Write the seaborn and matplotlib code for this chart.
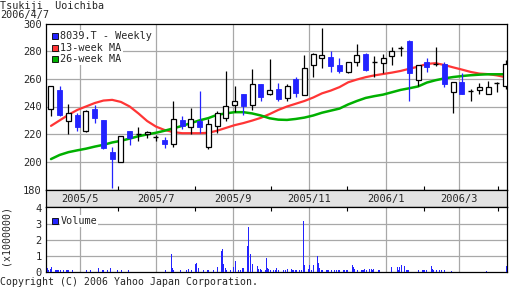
import matplotlib
matplotlib.use("Agg")
import matplotlib.pyplot as plt
import matplotlib.dates as mdates
from matplotlib.patches import Rectangle
import numpy as np
import pandas as pd
import seaborn as sns

sns.set_style("white")
plt.rcParams['font.family'] = ['DejaVu Sans Mono']
plt.rcParams['font.size'] = 7

# ---------------- data ----------------
title = "Tsukiji  Uoichiba"
as_of = "2006/4/7"
copyright_text = "Copyright (C) 2006 Yahoo Japan Corporation."
series_labels = ["8039.T - Weekly", "13-week MA", "26-week MA"]
volume_label = "Volume"
volume_unit = "(x1000000)"

week_start = "2005-04-08"
n_weeks = 53

opens = [238, 252, 229.8, 234, 222.4, 238, 230.3, 207.4, 199.8, 222.4,
         220, 220.2, 217.8, 215.9, 212.8, 230.3, 225.3, 229.8, 211, 225.8,
         231.6, 241.4, 249, 241.2, 256, 249.3, 252.7, 246.2, 259.9, 248.6,
         269.8, 274.9, 275.6, 269.8, 265.2, 272, 278, 272.4, 271.5, 276.8,
         282.5, 287.6, 259.4, 272.4, 270.5, 270.8, 250.8, 258, 251.5, 252,
         248.9, 256.8, 254.9]
highs = [255, 254.5, 242, 235.6, 237.5, 241.2, 230.5, 211, 219, 222.5,
         225.5, 222, 219.5, 217.8, 243.8, 233.4, 238.8, 251, 231, 236.6,
         265.5, 255, 249.1, 267, 256, 274.4, 256.8, 256.3, 261.6, 277.3,
         278.5, 296.8, 279.9, 274.9, 272.5, 285.2, 278.5, 276.8, 278, 282.8,
         283.5, 288, 270, 274.9, 283.2, 272.2, 257.5, 264, 252.5, 256.8,
         258.7, 257.5, 273.6]
lows = [233.4, 233, 220, 222.6, 221.9, 228.4, 209.2, 181, 199.8, 212.3,
        214.7, 217, 215.4, 209.9, 210.6, 223.6, 220.2, 221, 209.4, 220.7,
        229.8, 236, 234.2, 237.5, 244.3, 248.6, 244.3, 244.3, 246.7, 248.6,
        261.6, 267.7, 264.8, 264.3, 264, 269.5, 266, 261.6, 264, 270,
        276.8, 244.3, 254.7, 265.2, 269.3, 254.4, 235.2, 249, 244.3, 249.1,
        248.9, 250.8, 252.5]
closes = [255, 233.5, 235.2, 225, 236.8, 231.6, 210, 202.2, 218.8, 217.1,
          220, 221.9, 217.8, 212.8, 230.8, 226.2, 231.3, 225.5, 227.4, 235.2,
          240.2, 244.3, 240.2, 256.1, 246.7, 251.8, 245.5, 254.9, 249.6, 267.9,
          278, 277, 269.5, 265.5, 272, 277.5, 266.6, 272.4, 275.1, 280.1,
          282.5, 264.3, 270, 268.8, 270.5, 256.1, 257.5, 249.1, 251.5, 253.9,
          254.4, 256.8, 270.5]

ma13 = [226, 230, 234, 237.5, 240, 242.5, 244.3, 244.8, 243.3, 240,
        235, 229.5, 225.5, 223, 221.5, 220.7, 220.7, 220.7, 221, 222.5,
        224.5, 226.5, 228, 229.8, 231.8, 234.5, 237.5, 240, 242, 244,
        246.5, 249.5, 251.5, 254, 257.5, 259.5, 261.2, 262.5, 263.5, 264.5,
        265.7, 267.3, 268.8, 270.8, 271.3, 270, 268.3, 266.7, 265, 263.8,
        263.4, 262.5, 261.2]
ma26 = [202, 205, 207, 208.3, 209.5, 211, 212.3, 214, 215.2, 216.8,
        218.5, 219.8, 221, 222.5, 224.2, 226, 228, 230, 231.6, 234,
        235, 235.9, 235.9, 235, 233.5, 231.5, 230.5, 230.3, 231, 232,
        233.5, 235.5, 237, 238.5, 241.5, 244, 246.2, 247.5, 248.6, 250.3,
        252, 253.2, 254.5, 257.3, 259, 260.3, 261.3, 262, 262.6, 263,
        263.3, 263.3, 263.3]

vol_dates = [
    "2005-04-05", "2005-04-06", "2005-04-07", "2005-04-08", "2005-04-11", "2005-04-12",
    "2005-04-13", "2005-04-14", "2005-04-15", "2005-04-18", "2005-04-20", "2005-04-21",
    "2005-04-22", "2005-04-25", "2005-05-06", "2005-05-09", "2005-05-16", "2005-05-19",
    "2005-05-20", "2005-05-23", "2005-05-25", "2005-05-31", "2005-06-03", "2005-06-09",
    "2005-07-08", "2005-07-13", "2005-07-14", "2005-07-15", "2005-07-20", "2005-07-25",
    "2005-07-27", "2005-07-29", "2005-08-01", "2005-08-02", "2005-08-04", "2005-08-08",
    "2005-08-11", "2005-08-12", "2005-08-16", "2005-08-19", "2005-08-22", "2005-08-23",
    "2005-08-24", "2005-08-25", "2005-08-26", "2005-08-29", "2005-09-01", "2005-09-02",
    "2005-09-05", "2005-09-06", "2005-09-08", "2005-09-09", "2005-09-12", "2005-09-13",
    "2005-09-14", "2005-09-16", "2005-09-20", "2005-09-21", "2005-09-22", "2005-09-23",
    "2005-09-26", "2005-09-27", "2005-09-28", "2005-09-29", "2005-09-30", "2005-10-03",
    "2005-10-04", "2005-10-05", "2005-10-07", "2005-10-11", "2005-10-12", "2005-10-14",
    "2005-10-17", "2005-10-18", "2005-10-19", "2005-10-20", "2005-10-21", "2005-10-24",
    "2005-10-25", "2005-10-27", "2005-10-28", "2005-10-31", "2005-11-01", "2005-11-02",
    "2005-11-04", "2005-11-07", "2005-11-08", "2005-11-09", "2005-11-10", "2005-11-11",
    "2005-11-14", "2005-11-15", "2005-11-16", "2005-11-18", "2005-11-21", "2005-11-22",
    "2005-11-24", "2005-11-25", "2005-11-28", "2005-11-29", "2005-11-30", "2005-12-01",
    "2005-12-05", "2005-12-06", "2005-12-07", "2005-12-09", "2005-12-12", "2005-12-13",
    "2005-12-14", "2005-12-15", "2005-12-16", "2005-12-19", "2005-12-20", "2005-12-21",
    "2005-12-22", "2005-12-26", "2005-12-27", "2006-01-05", "2006-01-10", "2006-01-11",
    "2006-01-12", "2006-01-13", "2006-01-16", "2006-01-17", "2006-01-18", "2006-01-19",
    "2006-01-27", "2006-01-30", "2006-01-31", "2006-02-01", "2006-02-02", "2006-02-06",
    "2006-02-07", "2006-02-08", "2006-02-10", "2006-02-13", "2006-02-14", "2006-02-17",
    "2006-02-22", "2006-03-22", "2006-04-07"]
vol_values = [
    0.25, 0.15, 0.2, 0.33, 0.12, 0.12,
    0.12, 0.15, 0.15, 0.15, 0.12, 0.12,
    0.12, 0.12, 0.12, 0.12, 0.25, 0.12,
    0.12, 0.12, 0.25, 0.12, 0.12, 0.12,
    0.12, 1.16, 0.25, 0.12, 0.15, 0.12,
    0.2, 0.12, 0.5, 0.57, 0.25, 0.12,
    0.12, 0.15, 0.12, 0.33, 1.3, 1.47,
    0.5, 0.25, 0.12, 0.12, 0.3, 0.7,
    0.15, 0.12, 0.25, 0.27, 1.6, 2.78,
    1.14, 0.5, 0.4, 0.2, 0.2, 0.12,
    0.12, 0.9, 0.25, 0.2, 0.15, 0.15,
    0.12, 0.25, 0.12, 0.12, 0.12, 0.2,
    0.2, 0.12, 0.12, 0.12, 0.12, 0.12,
    0.12, 3.2, 0.47, 0.2, 0.47, 0.12,
    0.47, 1.0, 0.6, 0.25, 0.15, 0.15,
    0.12, 0.12, 0.12, 0.12, 0.15, 0.12,
    0.12, 0.12, 0.12, 0.12, 0.12, 0.15,
    0.43, 0.3, 0.2, 0.15, 0.12, 0.15,
    0.12, 0.2, 0.12, 0.2, 0.2, 0.12,
    0.2, 0.15, 0.12, 0.3, 0.3, 0.12,
    0.3, 0.43, 0.36, 0.15, 0.12, 0.12,
    0.12, 0.12, 0.12, 0.12, 0.12, 0.36,
    0.2, 0.12, 0.12, 0.12, 0.12, 0.15,
    0.1, 0.1, 0.36]

grid_months = ["2005-05-01", "2005-07-01", "2005-09-01", "2005-11-01", "2006-01-01", "2006-03-01"]
grid_labels = ["2005/5", "2005/7", "2005/9", "2005/11", "2006/1", "2006/3"]
minor_months = ["2005-06-01", "2005-08-01", "2005-10-01", "2005-12-01", "2006-02-01", "2006-04-01"]
price_ticks = [180, 200, 220, 240, 260, 280, 300]
volume_ticks = [0, 1, 2, 3, 4]

# ---------------- styling ----------------
BLUE = "#2323ff"
RED = "#ff3535"
GREEN = "#00b000"
GRID = "#a8a8a8"
BAND = "#e2e2e2"

W, H = 512, 288
fig = plt.figure(figsize=(W / 100, H / 100), dpi=100)
fig.patch.set_facecolor("white")


def rect(l, t, r, b):
    return [l / W, 1 - b / H, (r - l) / W, (b - t) / H]


ax = fig.add_axes(rect(46, 23.5, 507, 189.5))
axb = fig.add_axes(rect(46, 189.5, 507, 206.7))
axv = fig.add_axes(rect(46, 206.7, 507, 272.3))

dates = pd.date_range(week_start, periods=n_weeks, freq="7D")
df = pd.DataFrame({"date": dates, "open": opens, "high": highs, "low": lows,
                   "close": closes, "ma13": ma13, "ma26": ma26})
xs = mdates.date2num(df["date"])

xlim = (mdates.date2num(pd.Timestamp("2005-04-04")), mdates.date2num(pd.Timestamp("2006-04-08 04:00")))
gx = mdates.date2num(pd.to_datetime(grid_months))
mx = mdates.date2num(pd.to_datetime(minor_months))

# grid
for a in (ax, axv):
    for g in gx:
        a.axvline(g, color=GRID, lw=0.9, zorder=0.5)
for yv in price_ticks[1:-1]:
    ax.axhline(yv, color=GRID, lw=0.9, zorder=0.5)
for yv in volume_ticks[1:-1]:
    axv.axhline(yv, color=GRID, lw=0.9, zorder=0.5)

# moving averages via seaborn
sns.lineplot(data=df, x="date", y="ma13", ax=ax, color=RED, lw=1.6, zorder=2, legend=False)
sns.lineplot(data=df, x="date", y="ma26", ax=ax, color=GREEN, lw=1.8, zorder=2, legend=False)

# candles
bw = 4.0
for x, o, h, l, c in zip(xs, df["open"], df["high"], df["low"], df["close"]):
    if c > o:
        ax.vlines(x, l, h, color="black", lw=0.9, zorder=3)
        ax.add_patch(Rectangle((x - bw / 2, o), bw, c - o, facecolor="white",
                               edgecolor="black", lw=0.9, zorder=4))
    elif c < o:
        ax.vlines(x, l, h, color=BLUE, lw=0.9, zorder=3)
        ax.add_patch(Rectangle((x - bw / 2, c), bw, o - c, facecolor=BLUE,
                               edgecolor=BLUE, lw=0.6, zorder=4))
    else:
        ax.vlines(x, l, h, color="black", lw=0.9, zorder=3)
        ax.hlines(o, x - bw / 2, x + bw / 2, color="black", lw=1.0, zorder=4)

# volume
vd = mdates.date2num(pd.to_datetime(vol_dates))
axv.vlines(vd, 0, vol_values, color=BLUE, lw=0.72, zorder=3, antialiased=False)

# axes setup
for a in (ax, axb, axv):
    a.set_xlim(*xlim)
    a.set_xlabel("")
    a.set_ylabel("")
    for s in a.spines.values():
        s.set_color("black")
        s.set_linewidth(0.9)
        s.set_visible(True)

ax.set_ylim(180, 300)
ax.set_yticks(price_ticks)
ax.set_yticklabels([str(t) for t in price_ticks])
ax.set_xticks(mx)
ax.set_xticklabels([])
ax.tick_params(axis="y", length=0, pad=3, labelsize=7.5)
ax.tick_params(axis="x", direction="in", length=3, width=0.8, color="black", bottom=True)

axv.set_ylim(0, 4.06)
axv.set_yticks(volume_ticks)
axv.set_yticklabels([str(t) for t in volume_ticks])
axv.set_xticks(mx)
axv.set_xticklabels([])
axv.tick_params(axis="y", length=0, pad=3, labelsize=7.5)
axv.tick_params(axis="x", direction="in", length=3, width=0.8, color="black",
                bottom=False, top=True)

axb.set_facecolor(BAND)
axb.set_ylim(0, 1)
axb.set_xticks([])
axb.set_yticks([])
for g, lab in zip(gx, grid_labels):
    axb.text(g, 0.45, lab, ha="center", va="center", fontsize=7.5)

# legends (manual)
def fx(px):
    return px / W


def fy(py):
    return 1 - py / H


legend_rows = [(36.3, BLUE, series_labels[0]), (47.8, RED, series_labels[1]), (59.3, GREEN, series_labels[2])]
for yc, col, lab in legend_rows:
    fig.add_artist(Rectangle((fx(51.7), fy(yc + 3)), 6 / W, 6 / H, transform=fig.transFigure,
                             facecolor=col, edgecolor="black", lw=0.6, zorder=10))
    fig.text(fx(60.5), fy(yc), lab, ha="left", va="center", fontsize=7.3, zorder=10,
             bbox=dict(facecolor="white", edgecolor="none", pad=0.6))

fig.add_artist(Rectangle((fx(51.7), fy(223.7)), 6 / W, 6 / H, transform=fig.transFigure,
                         facecolor=BLUE, edgecolor="black", lw=0.6, zorder=10))
fig.text(fx(60.5), fy(220.7), volume_label, ha="left", va="center", fontsize=7.3, zorder=10,
         bbox=dict(facecolor="white", edgecolor="none", pad=0.6))

fig.text(fx(0), fy(6), title, ha="left", va="center", fontsize=7.3)
fig.text(fx(0), fy(15), as_of, ha="left", va="center", fontsize=7.3)
fig.text(fx(0), fy(282), copyright_text, ha="left", va="center", fontsize=7.1)
fig.text(fx(6), fy(235), volume_unit, ha="center", va="center", rotation=90, fontsize=7.1)

fig.savefig("out.png", dpi=100)
